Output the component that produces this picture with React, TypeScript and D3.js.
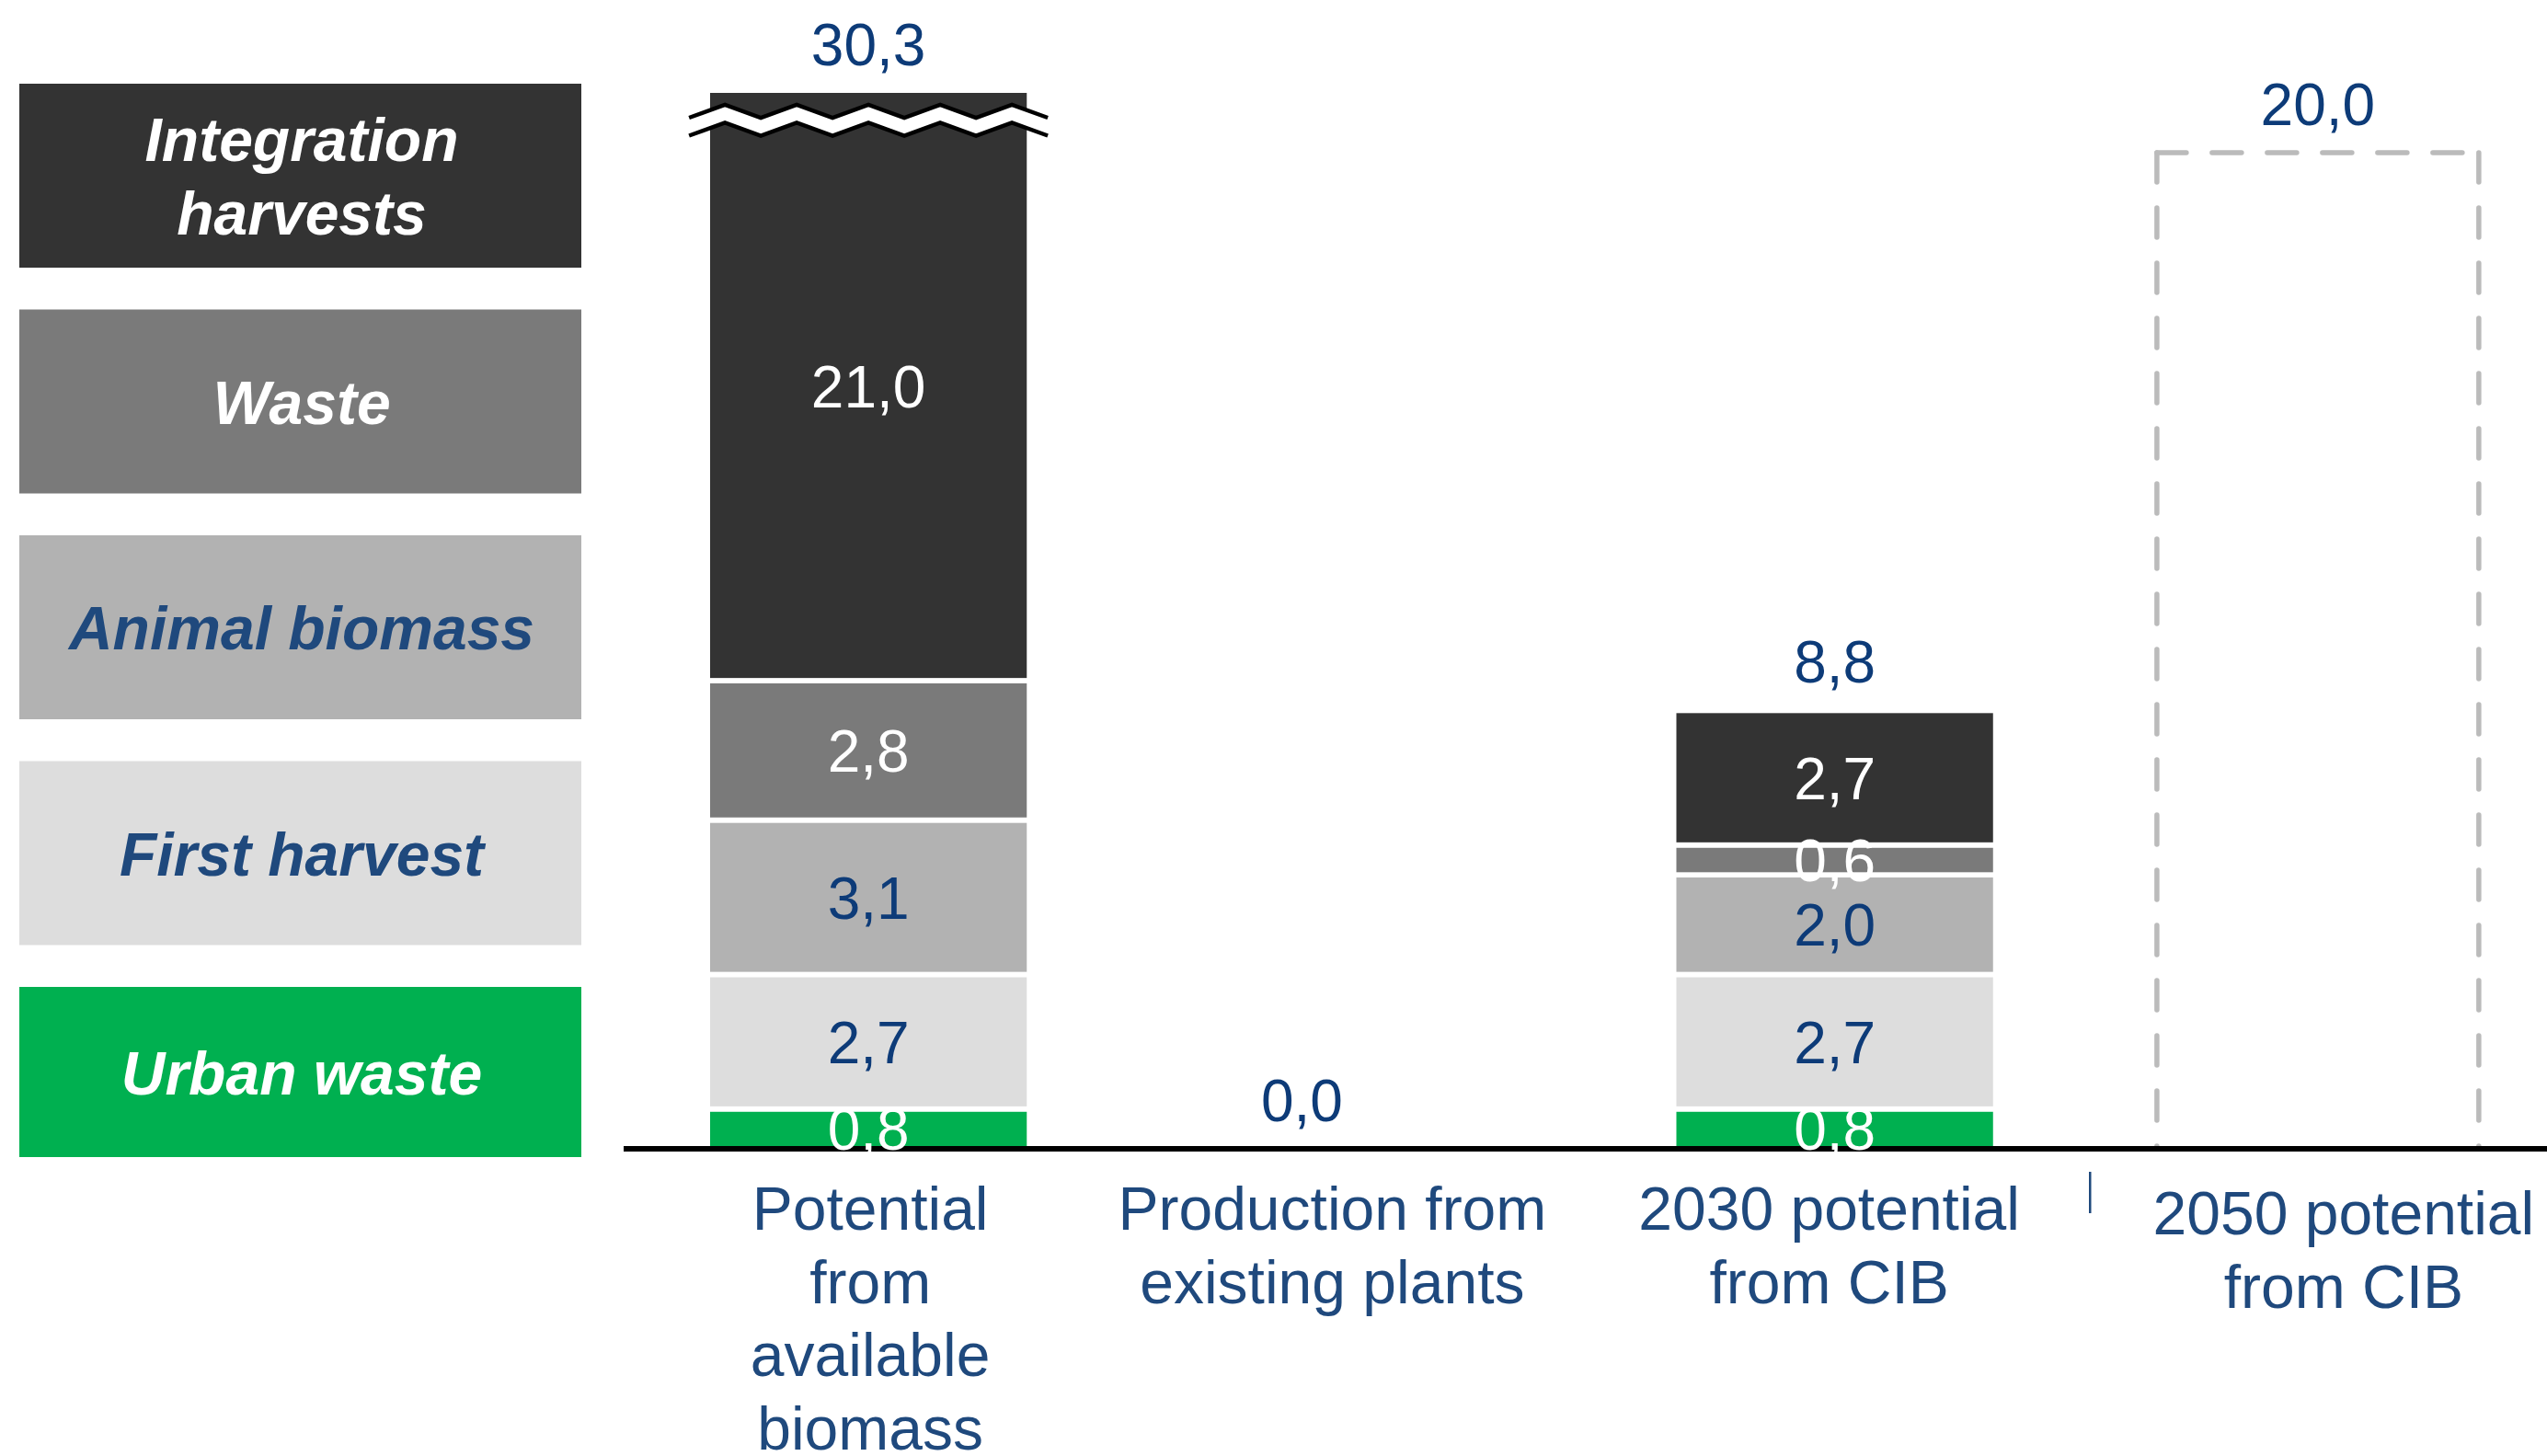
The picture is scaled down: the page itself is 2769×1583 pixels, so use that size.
import React from 'react';
import * as d3 from 'd3';

// ---------- data ----------
const categories = [
  'Potential from available biomass',
  'Production from existing plants',
  '2030 potential from CIB',
  '2050 potential from CIB',
];
const categoryLines = [
  ['Potential', 'from', 'available', 'biomass'],
  ['Production from', 'existing plants'],
  ['2030 potential', 'from CIB'],
  ['2050 potential', 'from CIB'],
];
const seriesKeys = ['urban', 'first', 'animal', 'waste', 'integration'];
const seriesNames = ['Urban waste', 'First harvest', 'Animal biomass', 'Waste', 'Integration harvests'];
const urbanWaste = [0.8, 0, 0.8, 0];
const firstHarvest = [2.7, 0, 2.7, 0];
const animalBiomass = [3.1, 0, 2.0, 0];
const wasteValues = [2.8, 0, 0.6, 0];
const integrationHarvests = [21.0, 0, 2.7, 0];
const totals = [30.3, 0.0, 8.8, 20.0];
const isTarget = [false, false, false, true];
const AXIS_MAX = 21.2; // value axis max; taller bars are cut (axis break)

// ---------- styles ----------
const W = 2769;
const H = 1583;
const FONT = '"Liberation Sans", Arial, Helvetica, sans-serif';
const seriesFill = ['#00B050', '#DDDDDD', '#B2B2B2', '#7A7A7A', '#333333'];
const seriesText = ['#FFFFFF', '#0D3B78', '#0D3B78', '#FFFFFF', '#FFFFFF'];
const legendText = ['#FFFFFF', '#1F497D', '#1F497D', '#FFFFFF', '#FFFFFF'];
const NAVY = '#0D3B78';
const CAT_NAVY = '#1F497D';
// manual text nudges as in the original slide
const catLabelDx = [2, -21, -6, 28];
const catLabelDy = [0, 0, 0, 5];
const totalLabelDx = [0, -54, 0, 0];

const fmt = (v: number) => v.toFixed(1).replace('.', ',');

export default function App() {
  const plotTop = 101;
  const axisY = 1249;
  const x = d3
    .scaleBand<string>()
    .domain(categories)
    .range([681.5, 2782.5])
    .paddingInner(0.3337)
    .paddingOuter(0.3337 / 2);
  const y = d3.scaleLinear().domain([0, AXIS_MAX]).range([axisY, plotTop]);
  const bw = x.bandwidth();

  const table = categories.map((c, i) => ({
    cat: c,
    urban: urbanWaste[i],
    first: firstHarvest[i],
    animal: animalBiomass[i],
    waste: wasteValues[i],
    integration: integrationHarvests[i],
  }));
  const stacked = d3.stack<any>().keys(seriesKeys)(table);

  const capHalf = 23;
  const segFont = 64;

  const legendOrder = [4, 3, 2, 1, 0];

  const bar0 = x(categories[0]) as number;
  const brkX0 = bar0 - 20;
  const brkX1 = bar0 + bw + 20;
  const nSeg = 10;
  const amp = 14;
  const peakY = plotTop + 13;
  const zig = (off: number) =>
    d3.range(nSeg + 1).map((k) => [brkX0 + ((brkX1 - brkX0) * k) / nSeg, peakY + off + (k % 2 === 0 ? amp : 0)] as [number, number]);
  const topLine = zig(0);
  const botLine = zig(19.5);
  const line = d3.line();
  const bandPoly = line([...topLine, ...botLine.slice().reverse()]) + 'Z';

  const sepX = ((x(categories[2]) as number) + bw + (x(categories[3]) as number)) / 2 + 15;

  return (
    <div style={{ position: 'absolute', left: 0, top: 0, width: W, height: H, overflow: 'hidden', background: '#fff' }}>
      <svg width={W} height={H} style={{ display: 'block' }} fontFamily={FONT}>
        <defs>
          <clipPath id="plot">
            <rect x={0} y={plotTop} width={W} height={axisY - plotTop + 20} />
          </clipPath>
        </defs>

        {legendOrder.map((s, i) => {
          const top = 91 + i * 245.5;
          const h = i === legendOrder.length - 1 ? 185 : 200;
          const cy = top + h / 2;
          const words = s === 4 ? ['Integration', 'harvests'] : [seriesNames[s]];
          return (
            <g key={s}>
              <rect x={21} y={top} width={611} height={h} fill={seriesFill[s]} />
              {words.map((w, j) => (
                <text
                  key={j}
                  x={328}
                  y={cy + 24 + (j - (words.length - 1) / 2) * 80}
                  textAnchor="middle"
                  fontSize={66}
                  fontWeight="bold"
                  fontStyle="italic"
                  fill={legendText[s]}
                >
                  {w}
                </text>
              ))}
            </g>
          );
        })}

        <g clipPath="url(#plot)">
          {stacked.map((layer, si) =>
            layer.map((d, ci) => {
              if (isTarget[ci] || d[1] - d[0] <= 0) return null;
              const y0 = y(d[0]);
              const y1 = y(d[1]);
              return (
                <rect
                  key={`${si}-${ci}`}
                  x={x(categories[ci])}
                  y={y1}
                  width={bw}
                  height={y0 - y1}
                  fill={seriesFill[si]}
                  stroke="#FFFFFF"
                  strokeWidth={5.7}
                />
              );
            })
          )}
        </g>

        {categories.map((c, ci) => {
          if (!isTarget[ci]) return null;
          const x0 = x(c) as number;
          const x1 = x0 + bw;
          const yt = y(totals[ci]);
          const yb = y(0);
          const st = { stroke: '#BBBBBB', strokeWidth: 5.5, strokeDasharray: '32 28', strokeLinecap: 'round' as const, fill: 'none' };
          return (
            <g key={c}>
              <line x1={x0} y1={yt} x2={x1} y2={yt} {...st} />
              <line x1={x0} y1={yt} x2={x0} y2={yb} {...st} />
              <line x1={x1} y1={yt} x2={x1} y2={yb} {...st} />
            </g>
          );
        })}

        <path d={bandPoly} fill="#FFFFFF" />
        <path d={line(topLine) as string} fill="none" stroke="#000" strokeWidth={4.5} />
        <path d={line(botLine) as string} fill="none" stroke="#000" strokeWidth={4.5} />

        <line x1={678} x2={W} y1={axisY} y2={axisY} stroke="#000" strokeWidth={6} />
        <line x1={sepX} x2={sepX} y1={1274} y2={1319} stroke={CAT_NAVY} strokeWidth={2.5} />

        {stacked.map((layer, si) =>
          layer.map((d, ci) => {
            const v = d[1] - d[0];
            if (isTarget[ci] || v <= 0) return null;
            const yTop = Math.max(y(d[1]), plotTop);
            const cy = (yTop + y(d[0])) / 2;
            return (
              <text
                key={`l${si}-${ci}`}
                x={(x(categories[ci]) as number) + bw / 2}
                y={cy + capHalf}
                textAnchor="middle"
                fontSize={segFont}
                fill={seriesText[si]}
              >
                {fmt(v)}
              </text>
            );
          })
        )}

        {categories.map((c, ci) => {
          const top = Math.max(y(totals[ci]), plotTop);
          return (
            <text
              key={`t${ci}`}
              x={(x(c) as number) + bw / 2 + totalLabelDx[ci]}
              y={top - 53 + capHalf}
              textAnchor="middle"
              fontSize={segFont}
              fill={NAVY}
            >
              {fmt(totals[ci])}
            </text>
          );
        })}

        {categories.map((c, ci) => (
          <text key={`c${ci}`} textAnchor="middle" fontSize={66} fill={CAT_NAVY}>
            {categoryLines[ci].map((ln, j) => (
              <tspan key={j} x={(x(c) as number) + bw / 2 + catLabelDx[ci]} y={axisY + 88 + catLabelDy[ci] + j * 79.5}>
                {ln}
              </tspan>
            ))}
          </text>
        ))}
      </svg>
    </div>
  );
}
